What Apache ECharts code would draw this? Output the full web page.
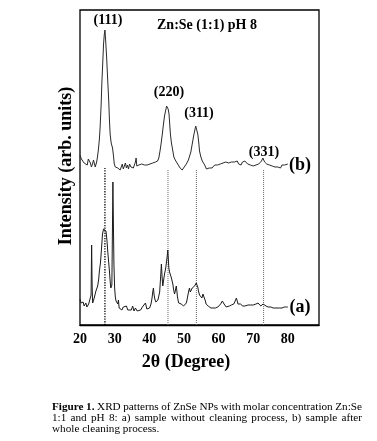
<!DOCTYPE html>
<html>
<head>
<meta charset="utf-8">
<script src="https://cdn.jsdelivr.net/npm/echarts@6/dist/echarts.min.js"></script>
<style>
html,body{margin:0;padding:0;background:#fff;}
#chart{width:377px;height:441px;}
</style>
</head>
<body>
<div id="chart"></div>
<script>
// ---- Data ----
const twoTheta_b = [20.0,20.4,20.8,21.2,21.7,22.1,22.4,22.7,23.0,23.3,23.6,23.9,24.1,24.4,24.6,24.8,25.0,25.3,25.6,25.8,26.1,26.3,26.6,26.8,27.0,27.2,27.4,27.7,28.0,28.3,28.5,28.7,29.0,29.2,29.4,29.7,29.9,30.2,30.5,30.9,31.2,31.6,31.9,32.2,32.5,32.8,33.1,33.4,33.7,34.0,34.3,34.7,35.0,35.4,35.8,36.0,36.2,36.4,36.7,37.0,37.4,37.8,38.2,38.6,39.0,39.4,39.8,40.2,40.6,41.0,41.4,41.8,42.1,42.4,42.75,43.1,43.4,43.8,44.1,44.4,44.7,45.0,45.2,45.45,45.7,45.9,46.1,46.4,46.8,47.1,47.5,47.8,48.2,48.5,48.9,49.2,49.5,49.8,50.1,50.4,50.7,51.0,51.3,51.6,52.0,52.4,52.8,53.1,53.4,53.6,53.8,54.0,54.3,54.5,54.9,55.3,55.6,56.0,56.5,56.9,57.3,57.7,58.1,58.5,58.9,59.3,59.7,60.1,60.5,60.9,61.3,61.7,62.1,62.5,62.9,63.3,63.7,64.2,64.6,65.0,65.4,65.8,66.1,66.5,66.9,67.3,67.6,68.0,68.4,68.8,69.2,69.6,70.0,70.4,70.8,71.2,71.6,72.0,72.4,72.8,73.0,73.3,73.6,73.9,74.3,74.7,75.1,75.5,75.9,76.3,76.7,77.1,77.5,77.9,78.3,78.7,79.1,79.5,80.0];
const intensity_b = [170,166,168,162,164,160,166,167,162,158,161,165,163,158,159,163,167,175,186,197,220,241,265,281,290,295,285,267,245,224,205,191,182,180,177,168,161,158,160,157,159,155,158,161,156,159,162,157,160,156,161,158,160,157,159,163,167,159,157,160,158,161,159,160,158,160,159,161,160,162,161,163,161,164,167,174,181,192,201,209,214,219,221,216,211,201,191,182,174,168,165,164,161,159,157,159,155,156,158,160,161,163,165,167,173,181,189,194,199,201,197,191,182,174,168,164,162,160,156,158,157,159,157,158,160,158,160,159,161,160,162,160,163,161,162,160,163,161,163,162,164,161,162,160,163,161,164,164,161,163,160,162,159,161,160,162,161,163,164,167,166,163,164,161,162,160,162,159,161,158,160,158,159,157,160,158,160,159,161];

const twoTheta_a = [20.0,20.3,20.6,20.9,21.2,21.5,21.7,22.0,22.2,22.5,22.7,23.0,23.2,23.36,23.5,23.65,23.9,24.1,24.4,24.6,24.9,25.1,25.4,25.6,25.9,26.1,26.3,26.5,26.8,27.0,27.2,27.5,27.8,28.0,28.3,28.5,28.7,28.9,29.2,29.35,29.5,29.65,29.8,30.0,30.2,30.4,30.7,30.9,31.1,31.3,31.7,32.1,32.5,33.0,33.4,33.8,34.3,34.8,35.2,35.6,36.0,36.5,37.0,37.5,38.0,38.5,38.9,39.3,39.7,40.1,40.5,40.8,41.0,41.2,41.4,41.6,41.9,42.2,42.5,42.75,43.0,43.15,43.35,43.5,43.7,43.9,44.1,44.4,44.7,44.9,45.15,45.35,45.5,45.65,45.85,46.05,46.4,46.6,46.8,47.0,47.3,47.5,47.8,48.0,48.1,48.3,48.5,48.8,49.2,49.5,49.9,50.3,50.7,50.9,51.1,51.4,51.6,51.85,52.1,52.4,52.6,52.9,53.1,53.3,53.55,53.75,54.0,54.2,54.5,54.7,55.0,55.2,55.5,55.7,55.9,56.2,56.4,56.6,57.0,57.4,57.8,58.1,58.4,58.8,59.1,59.4,59.8,60.3,60.6,60.8,61.1,61.3,61.6,61.8,62.2,62.7,63.1,63.4,63.7,64.0,64.4,64.8,65.15,65.4,65.6,66.0,66.3,66.6,67.0,67.3,67.6,68.0,68.5,68.9,69.2,69.5,70.0,70.5,70.8,71.1,71.4,71.6,71.9,72.2,72.5,72.85,73.1,73.3,73.7,74.0,74.3,74.7,75.1,75.4,75.75,76.2,76.6,77.0,77.2,77.6,78.0,78.3,78.6,79.0,79.3,79.6,80.0];
const intensity_a = [26,22,20,23,19,21,22,18,18,21,22,21,30,80,40,22,24,27,29,34,36,39,46,54,62,71,81,91,96,95,98,94,84,74,62,54,44,37,40,90,143,100,60,37,28,24,22,21,25,17,19,15,18,16,19,15,17,15,19,14,17,14,16,15,18,16,22,16,18,17,21,27,33,37,30,26,23,22,25,27,33,41,52,61,48,39,44,51,56,61,68,75,66,57,53,51,47,44,41,36,31,34,39,33,29,25,22,21,21,23,19,21,22,25,29,34,37,33,34,37,37,38,39,41,42,41,38,34,30,29,28,27,31,30,27,24,21,19,19,18,17,18,17,16,17,17,18,19,21,22,24,23,21,19,18,17,19,18,20,19,21,24,27,24,21,20,21,20,19,20,19,20,20,19,20,19,20,20,21,21,22,23,21,19,20,21,20,20,19,18,18,17,18,17,17,18,17,18,18,17,18,17,17,18,17,18,18];

const peakPositions = [27.2, 45.4, 53.6, 73.0];
const peakLabels = ['(111)', '(220)', '(311)', '(331)'];
const dotTop = [157, 155, 155, 156];
const xTicks = [20, 30, 40, 50, 60, 70, 80];

// ---- build ----
const zip = (xs, ys) => xs.map((x, i) => [x, ys[i]]);
const SERIF = '"Liberation Serif","Times New Roman",serif';

const dotSeries = peakPositions.map((p, i) => ({
  type: 'line', silent: true, symbol: 'none', z: 1,
  data: [[p, 0], [p, dotTop[i]]],
  lineStyle: { type: 'dotted', width: i === 0 ? 1.3 : 1, color: i === 0 ? '#000' : '#666' }
}));

const graphics = [];
function txt(text, x, y, size, weight, extra) {
  graphics.push(Object.assign({
    type: 'text', x: x, y: y, silent: true,
    style: { text: text, fill: '#000', font: (weight || 'bold') + ' ' + size + 'px ' + SERIF,
      align: 'center', verticalAlign: 'middle' }
  }, extra || {}));
}
txt(peakLabels[0], 108, 20, 14);
txt('Zn:Se (1:1) pH 8', 207, 25, 14);
txt(peakLabels[1], 169, 92, 14);
txt(peakLabels[2], 199, 113, 14);
txt(peakLabels[3], 264, 152, 14);
txt('(b)', 300, 165, 18);
txt('(a)', 300, 307, 18);
txt('2θ (Degree)', 186, 362, 18);
txt('Intensity (arb. units)', 66, 166, 18, 'bold', { rotation: Math.PI / 2 });

// Caption (justified lines)
const capSize = 11.2;
const measure = document.createElement('canvas').getContext('2d');
function capLine(words, y, x0, x1, justify) {
  const fonts = words.map(w => (w[1] ? 'bold ' : 'normal ') + capSize + 'px ' + SERIF);
  const widths = words.map((w, i) => { measure.font = fonts[i]; return measure.measureText(w[0]).width; });
  measure.font = 'normal ' + capSize + 'px ' + SERIF;
  const space = measure.measureText(' ').width;
  const total = widths.reduce((a, b) => a + b, 0);
  const gap = justify ? (x1 - x0 - total) / (words.length - 1) : space;
  let x = x0;
  words.forEach((w, i) => {
    graphics.push({ type: 'text', x: x, y: y, silent: true,
      style: { text: w[0], fill: '#000', font: fonts[i], align: 'left', verticalAlign: 'middle' } });
    x += widths[i] + gap;
  });
}
const cap1 = [['Figure', 1], ['1.', 1], ['XRD'], ['patterns'], ['of'], ['ZnSe'], ['NPs'], ['with'], ['molar'], ['concentration'], ['Zn:Se']];
const cap2 = [['1:1'], ['and'], ['pH'], ['8:'], ['a)'], ['sample'], ['without'], ['cleaning'], ['process,'], ['b)'], ['sample'], ['after']];
const cap3 = [['whole'], ['cleaning'], ['process.']];
capLine(cap1, 407, 52, 362, true);
capLine(cap2, 418, 52, 362, true);
capLine(cap3, 429, 52, 362, false);

const chart = echarts.init(document.getElementById('chart'), null, { renderer: 'canvas' });
chart.setOption({
  animation: false,
  backgroundColor: '#fff',
  grid: { left: 80, right: 58, top: 10, bottom: 116, show: true, borderColor: '#000', borderWidth: 1.3, backgroundColor: 'transparent' },
  xAxis: {
    type: 'value', min: 20, max: 89, interval: 10,
    axisLine: { show: true, lineStyle: { color: '#000', width: 1.3 } },
    axisTick: { show: false }, splitLine: { show: false },
    axisLabel: {
      margin: 7, color: '#000', fontFamily: SERIF, fontWeight: 'bold', fontSize: 14,
      showMaxLabel: false,
      formatter: v => (xTicks.indexOf(v) >= 0 ? String(v) : '')
    }
  },
  yAxis: {
    type: 'value', min: 0, max: 315,
    axisLine: { show: false }, axisTick: { show: false }, axisLabel: { show: false }, splitLine: { show: false }
  },
  series: dotSeries.concat([
    { name: '(b)', type: 'line', symbol: 'none', z: 3, data: zip(twoTheta_b, intensity_b),
      lineStyle: { color: '#2a2a2a', width: 1 } },
    { name: '(a)', type: 'line', symbol: 'none', z: 3, data: zip(twoTheta_a, intensity_a),
      lineStyle: { color: '#1a1a1a', width: 1 } }
  ]),
  graphic: graphics
});
</script>
</body>
</html>
